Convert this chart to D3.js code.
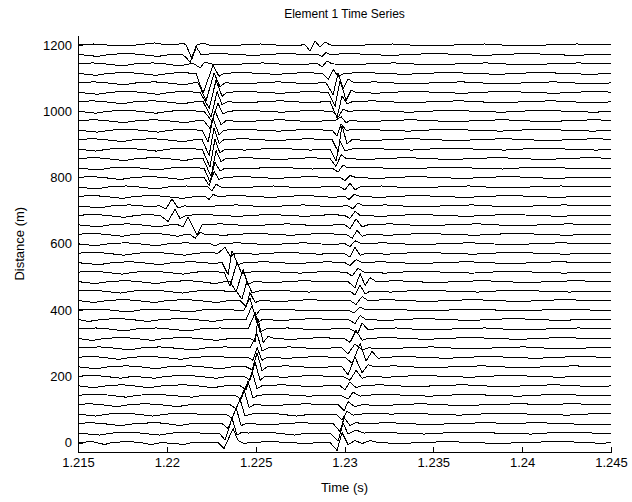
<!DOCTYPE html>
<html><head><meta charset="utf-8">
<script src="https://cdn.jsdelivr.net/npm/d3@7"></script>
<style>
body{margin:0;background:#fff}
svg{display:block}
text{font-family:Arial,"Liberation Sans",sans-serif;fill:#000}
</style>
</head><body>
<svg id="chart" width="632" height="502"></svg>
<script>
// ---- data ----
const chartTitle = "Element 1 Time Series";
const xLabel = "Time (s)";
const yLabel = "Distance (m)";
const xTicks = [1.215, 1.22, 1.225, 1.23, 1.235, 1.24, 1.245];
const xTickLabels = ["1.215", "1.22", "1.225", "1.23", "1.235", "1.24", "1.245"];
const yTicks = [0, 200, 400, 600, 800, 1000, 1200];
const xDomain = [1.215, 1.245];
const yDomain = [-28.57, 1228.57];
// receiver distances (m), one trace each
const distances = [0, 28.57, 57.14, 85.71, 114.29, 142.86, 171.43, 200, 228.57, 257.14, 285.71,
  314.29, 342.86, 371.43, 400, 428.57, 457.14, 485.71, 514.29, 542.86, 571.43, 600, 628.57,
  657.14, 685.71, 714.29, 742.86, 771.43, 800, 828.57, 857.14, 885.71, 914.29, 942.86, 971.43,
  1000, 1028.57, 1057.14, 1085.71, 1114.29, 1142.86, 1171.43, 1200];
const traceStart = 1.215;   // s, times below are ms after this
const gain = 3;             // m of offset per amplitude unit
// each trace: "ms:amplitude" pairs (amplitude positive = up)
const traces = [
"0:0 0.8:1 1.5:-2 1.9:0 2.8:1 3.5:0 4.1:-2 4.7:0 6.0:-2 6.4:0 7.88:0 8.22:-6 8.73:14 9.01:2 9.35:-1 9.68:0 10.8:1 11.9:0 12.8:-1 13.6:0 14.19:0 14.58:-8 14.86:10 15.20:-2 15.59:2 15.99:-1 16.44:2 16.89:0 18.1:-1 19.3:0 20.9:1 22.1:0 23.8:-1 24.9:0 27.1:1 28.8:0 29.4:-1 30:0",
"0:0 1.2:-2 1.9:0 3.0:1 3.5:0 4.6:-2 5.3:0 6.2:1 6.9:0 7.94:0 8.28:-7 8.67:15 8.95:-2 9.23:1 9.57:0 10.5:1 11.2:0 12.2:-2 12.9:0 14.19:0 14.64:-8 14.92:10 15.20:-1 15.65:3 16.10:0 17.3:1 18.0:0 19.5:-1 20.4:0 22.6:1 23.5:0 25.5:-1 26.3:0 28.3:1 29.0:0 30:0",
"0:0 0.7:1 1.4:0 2.4:-2 3.2:0 4.4:1 5.0:0 5.7:-2 6.4:0 8.11:0 8.45:-5 8.90:16 9.18:-2 9.46:0 10.9:-1 11.6:0 12.6:1 13.4:0 14.36:0 14.75:-8 14.98:6 15.31:-2 15.65:1 15.99:0 17.6:1 18.4:0 20.0:-1 21.0:0 23.2:1 24.0:0 26.0:1 27.0:0 29.2:-1 30:-1",
"0:0 1.0:-2 1.6:0 2.6:1 3.3:0 4.2:-2 4.9:0 6.1:1 6.8:0 8.33:0 8.67:-4 9.12:15 9.40:-2 9.68:0 10.6:1 11.4:0 12.3:-2 13.1:0 14.52:0 14.86:-6 15.14:3 15.48:-1 15.88:0 16.9:1 17.6:0 19.0:1 19.8:0 21.5:-1 22.4:0 24.5:1 25.4:0 27.6:-1 28.5:0 30:1",
"0:0 0.6:1 1.3:0 2.2:-2 2.9:0 3.8:1 4.6:0 5.6:-2 6.3:0 8.56:0 8.90:-4 9.35:15 9.63:-3 9.91:0 11.0:-1 11.8:0 12.9:1 13.6:0 14.64:0 14.98:-6 15.20:3 15.59:-2 15.99:0 17.2:-1 18.0:0 19.4:1 20.2:0 22.0:-1 22.9:0 25.0:1 25.9:0 28.0:1 29.0:0 30:0",
"0:0 1.1:1 1.8:0 2.7:-2 3.4:0 4.3:1 5.1:0 6.4:-2 7.1:0 8.84:0 9.18:-4 9.57:14 9.85:-3 10.13:0 11.3:1 12.0:0 13.0:-1 13.8:0 14.75:0 15.20:-4 15.48:3 15.88:-1 16.21:0 17.5:1 18.3:0 19.8:-1 20.7:0 22.3:1 23.1:0 24.8:-1 25.7:0 27.4:1 28.2:0 30:0",
"0:0 0.9:-2 1.6:0 2.5:1 3.1:0 4.0:-2 4.8:0 5.9:1 6.7:0 7.6:-2 8.3:0 9.12:0 9.46:-4 9.80:14 10.08:-3 10.36:0 11.5:1 12.3:0 13.3:-1 14.0:0 14.75:0 15.03:-4 15.31:4 15.65:-2 15.99:0 17.0:1 17.8:0 19.2:-1 20.0:0 21.7:1 22.6:0 24.2:-1 25.1:0 26.9:1 27.8:0 29.5:-1 30:0",
"0:0 0.8:1 1.5:0 2.4:-2 3.1:0 4.3:-2 5.0:0 6.0:1 6.8:0 7.8:-2 8.5:0 9.35:0 9.68:-4 9.97:14 10.25:-4 10.53:0 11.6:-1 12.4:0 13.2:1 14.0:0 14.92:0 15.31:-4 15.65:6 15.99:-2 16.33:0 17.4:-1 18.2:0 19.6:1 20.4:0 22.1:-1 23.0:0 24.6:1 25.5:0 27.2:-1 28.0:0 30:0",
"0:0 1.0:-2 1.7:0 2.7:1 3.5:0 4.4:-2 5.1:0 6.3:1 7.0:0 8.0:-2 8.7:0 9.46:0 9.80:-3 10.08:14 10.36:-4 10.64:0 11.7:1 12.5:0 13.5:-1 14.2:0 14.86:0 15.20:-8 15.59:10 15.99:-6 16.33:2 16.66:0 17.8:1 18.6:0 20.1:-1 21.0:0 22.8:1 23.7:0 25.3:-1 26.2:0 28.0:1 28.9:0 30:0",
"0:0 0.7:1 1.4:0 2.3:-2 3.0:0 4.0:1 4.8:0 5.8:-2 6.5:0 7.7:1 8.5:0 9.57:0 9.85:-3 10.08:10 10.36:-3 10.64:0 11.8:-1 12.6:0 13.6:1 14.3:0 15.03:0 15.43:-6 15.88:14 16.21:-4 16.55:6 16.89:-1 17.23:0 18.5:1 19.3:0 20.8:-1 21.7:0 23.4:1 24.2:0 25.9:-1 26.8:0 28.6:1 29.4:0 30:0",
"0:0 1.2:1 1.9:0 2.9:-2 3.6:0 4.6:1 5.3:0 6.5:-2 7.2:0 8.3:1 9.0:0 9.68:0 10.08:14 10.36:-3 10.70:0 11.9:1 12.7:0 13.7:-1 14.3:0 14.86:0 15.20:-6 15.59:4 15.99:-2 16.33:0 17.6:-1 18.4:0 19.9:1 20.8:0 22.5:-1 23.4:0 25.1:1 26.0:0 27.8:-1 28.7:0 30:0",
"0:0 0.8:-2 1.5:0 2.5:1 3.2:0 4.2:-2 4.9:0 6.0:1 6.7:0 7.8:-2 8.6:0 9.68:0 9.97:-3 10.13:20 10.42:-4 10.70:2 11.03:0 12.0:-1 12.8:0 13.8:1 14.4:0 14.98:0 15.31:-4 15.65:8 15.99:-2 16.33:0 17.5:1 18.3:0 19.7:-1 20.6:0 22.3:1 23.2:0 24.9:-1 25.8:0 27.5:1 28.4:0 30:0",
"0:0 1.0:1 1.7:0 2.6:-2 3.3:0 4.4:1 5.1:0 6.2:-2 6.9:0 8.0:1 8.8:0 9.57:0 9.97:16 10.25:-3 10.58:0 11.8:1 12.6:0 13.5:-1 14.3:0 15.31:0 15.76:-4 15.99:6 16.33:-1 16.66:0 17.9:1 18.7:0 20.2:-1 21.1:0 22.9:1 23.8:0 25.5:-1 26.4:0 28.2:1 29.1:0 30:0",
"0:0 0.6:-2 1.3:0 2.3:1 3.0:0 3.9:-2 4.7:0 5.8:1 6.5:0 7.6:-2 8.4:0 9.46:0 9.80:14 10.08:-4 10.36:0 11.5:-1 12.3:0 13.3:1 14.1:0 15.20:0 15.59:-4 15.88:4 16.21:0 17.4:-1 18.2:0 19.6:1 20.5:0 22.2:-1 23.1:0 24.7:1 25.6:0 27.3:-1 28.2:0 30:0",
"0:0 1.1:1 1.8:0 2.8:-2 3.5:0 4.5:1 5.2:0 6.3:-2 7.0:0 8.1:1 8.8:0 9.35:0 9.68:12 9.97:-6 10.25:0 11.4:1 12.2:0 13.2:-1 14.0:0 15.20:0 15.54:-3 15.88:3 16.21:0 17.7:1 18.5:0 20.0:-1 20.9:0 22.6:1 23.5:0 25.2:-1 26.1:0 27.9:1 28.8:0 30:0",
"0:0 0.9:-2 1.6:0 2.6:1 3.3:0 4.3:-2 5.0:0 6.1:1 6.8:0 7.8:-2 8.5:0 9.12:0 9.46:-6 9.68:8 9.97:-2 10.25:0 11.4:-1 12.2:0 13.1:1 13.9:0 15.31:0 15.65:-4 15.99:4 16.33:0 17.5:1 18.3:0 19.8:-1 20.7:0 22.4:1 23.3:0 25.0:-1 25.9:0 27.6:1 28.5:0 30:0",
"0:0 0.7:1 1.4:0 2.4:-2 3.1:0 4.1:1 4.9:0 5.9:-2 6.6:0 7.6:1 8.3:0 8.90:0 9.23:-8 9.51:10 9.80:-2 10.08:0 11.2:1 12.0:0 13.0:-1 13.8:0 15.31:0 15.59:-4 15.88:6 16.16:-3 16.44:0 17.6:-1 18.4:0 19.9:1 20.8:0 22.5:-1 23.4:0 25.1:1 26.0:0 27.7:-1 28.6:0 30:0",
"0:0 1.0:-2 1.7:0 2.7:1 3.4:0 4.4:-2 5.1:0 6.2:1 6.9:0 7.7:-2 8.3:0 8.56:0 8.90:-10 9.29:12 9.57:-3 9.91:0 11.0:-1 11.8:0 12.8:1 13.6:0 15.20:0 15.59:-6 15.88:8 16.16:-4 16.44:4 16.78:0 18.0:1 18.8:0 20.3:-1 21.2:0 22.9:1 23.8:0 25.5:-1 26.4:0 28.2:1 29.1:0 30:0",
"0:0 0.8:1 1.5:0 2.5:-2 3.2:0 4.2:1 4.9:0 5.9:-2 6.6:0 7.5:1 8.0:0 8.22:0 8.56:-14 8.95:10 9.23:-2 9.57:0 10.7:1 11.5:0 12.5:-1 13.3:0 14.3:1 14.8:0 15.09:0 15.43:-4 15.76:4 16.10:0 17.3:-1 18.1:0 19.6:1 20.5:0 22.2:-1 23.1:0 24.8:1 25.7:0 27.4:-1 28.3:0 30:0",
"0:0 1.2:-2 1.9:0 2.9:1 3.6:0 4.6:-2 5.3:0 6.4:1 7.1:0 7.7:-1 8.0:0 8.11:0 8.45:-12 8.67:12 9.01:-2 9.35:0 10.5:1 11.3:0 12.3:-1 13.1:0 14.1:1 14.7:0 15.03:0 15.31:-3 15.65:3 15.99:0 17.1:1 17.9:0 19.4:-1 20.3:0 22.0:1 22.9:0 24.6:-1 25.5:0 27.2:1 28.1:0 30:0",
"0:0 0.9:1 1.6:0 2.6:-2 3.3:0 4.3:1 5.0:0 6.0:-2 6.7:0 7.4:1 7.8:0 7.88:0 8.28:6 8.56:-3 8.90:0 10.0:-1 10.8:0 11.8:1 12.6:0 13.6:-1 14.4:0 14.98:0 15.31:-4 15.59:6 15.88:-2 16.21:0 17.4:-1 18.2:0 19.7:1 20.6:0 22.3:-1 23.2:0 24.9:1 25.8:0 27.5:-1 28.4:0 30:0",
"0:0 1.0:-2 1.7:0 2.7:1 3.4:0 4.4:-2 5.1:0 6.1:1 6.8:0 7.43:0 7.71:-2 7.99:0 9.0:1 9.8:0 10.9:-1 11.7:0 12.7:1 13.5:0 14.3:-1 14.8:0 15.03:0 15.31:-3 15.59:3 15.99:0 17.2:1 18.0:0 19.5:-1 20.4:0 22.1:1 23.0:0 24.7:-1 25.6:0 27.3:1 28.2:0 30:0",
"0:0 0.8:1 1.5:0 2.5:-2 3.2:0 4.2:1 4.9:0 5.6:-2 6.1:0 6.31:0 6.59:-4 6.87:2 7.15:0 8.2:-1 9.0:0 10.1:1 10.9:0 12.0:-1 12.8:0 13.9:1 14.6:0 15.09:0 15.43:-4 15.71:4 15.99:-2 16.33:0 17.5:-1 18.3:0 19.8:1 20.7:0 22.4:-1 23.3:0 25.0:1 25.9:0 27.6:-1 28.5:0 30:0",
"0:0 1.1:-2 1.8:0 2.8:1 3.5:0 4.5:-2 5.2:0 5.63:0 5.91:-2 6.19:8 6.70:-10 6.98:0 8.0:1 8.8:0 9.9:-1 10.7:0 11.8:1 12.6:0 13.7:-1 14.5:0 15.03:0 15.31:-4 15.65:6 15.99:-2 16.33:0 17.6:1 18.4:0 19.9:-1 20.8:0 22.5:1 23.4:0 25.1:-1 26.0:0 27.7:1 28.6:0 30:0",
"0:0 0.9:1 1.6:0 2.6:-2 3.3:0 4.0:1 4.4:0 4.62:0 5.07:-6 5.46:6 5.74:-3 6.08:0 7.1:1 7.9:0 9.0:-1 9.8:0 10.9:1 11.7:0 12.8:-1 13.6:0 14.4:1 14.8:0 14.98:0 15.31:-3 15.59:4 15.88:0 17.1:-1 17.9:0 19.4:1 20.3:0 22.0:-1 22.9:0 24.6:1 25.5:0 27.2:-1 28.1:0 30:0",
"0:0 1.2:-2 1.9:0 2.9:1 3.6:0 4.2:-1 4.5:0 4.62:0 4.95:-3 5.29:7 5.63:-2 5.97:0 7.0:-1 7.8:0 8.9:1 9.7:0 10.8:-1 11.6:0 12.7:1 13.5:0 14.5:-1 15.0:0 15.20:0 15.48:-3 15.76:3 16.10:0 17.3:1 18.1:0 19.6:-1 20.5:0 22.2:1 23.1:0 24.8:-1 25.7:0 27.4:1 28.3:0 30:0",
"0:0 0.8:1 1.5:0 2.5:-2 3.2:0 4.2:1 4.9:0 5.9:-2 6.6:0 7.15:0 7.38:-3 7.60:2 7.88:0 9.0:1 9.8:0 10.9:-1 11.7:0 12.8:1 13.6:0 14.4:-1 14.8:0 15.03:0 15.26:-3 15.54:2 15.88:0 17.0:-1 17.8:0 19.3:1 20.2:0 21.9:-1 22.8:0 24.5:1 25.4:0 27.1:-1 28.0:0 30:0",
"0:0 1.0:-2 1.7:0 2.7:1 3.4:0 4.4:-2 5.1:0 6.1:1 6.8:0 7.32:0 7.54:-4 7.77:3 7.99:0 9.1:-1 9.9:0 11.0:1 11.8:0 12.9:-1 13.7:0 14.75:0 15.03:-3 15.31:4 15.59:-3 15.88:0 17.1:1 17.9:0 19.4:-1 20.3:0 22.0:1 22.9:0 24.6:-1 25.5:0 27.2:1 28.1:0 30:0",
"0:0 0.7:1 1.4:0 2.4:-2 3.1:0 4.1:1 4.8:0 5.8:-2 6.5:0 7.09:0 7.38:-8 7.66:6 7.94:-2 8.22:0 9.3:1 10.1:0 11.2:-1 12.0:0 13.1:1 13.9:0 14.75:0 15.03:-3 15.31:2 15.65:0 16.9:-1 17.7:0 19.2:1 20.1:0 21.8:-1 22.7:0 24.4:1 25.3:0 27.0:-1 27.9:0 30:0",
"0:0 1.1:-2 1.8:0 2.8:1 3.5:0 4.5:-2 5.2:0 6.2:1 6.9:0 7.09:0 7.43:-14 7.71:6 7.99:-3 8.28:0 9.4:-1 10.2:0 11.3:1 12.1:0 13.2:-1 13.9:0 14.30:0 14.64:-4 14.92:3 15.20:0 16.4:1 17.2:0 18.7:-1 19.6:0 21.3:1 22.2:0 23.9:-1 24.8:0 26.5:1 27.4:0 29.1:-1 30:0",
"0:0 0.9:1 1.6:0 2.6:-2 3.3:0 4.3:1 5.0:0 6.0:-2 6.6:0 7.04:0 7.49:-18 7.77:8 8.05:-3 8.33:0 9.5:1 10.3:0 11.4:-1 12.2:0 13.2:1 13.8:0 14.19:0 14.52:-8 14.81:4 15.09:0 16.3:-1 17.1:0 18.6:1 19.5:0 21.2:-1 22.1:0 23.8:1 24.7:0 26.4:-1 27.3:0 29.0:1 30:0",
"0:0 1.0:-2 1.7:0 2.7:1 3.4:0 4.4:-2 5.1:0 6.1:1 6.7:0 6.98:0 7.43:-18 7.71:10 7.99:-4 8.28:0 9.4:-1 10.2:0 11.3:1 12.1:0 13.1:-1 13.8:0 14.19:0 14.52:-12 14.75:8 15.03:-2 15.31:0 16.5:1 17.3:0 18.8:-1 19.7:0 21.4:1 22.3:0 24.0:-1 24.9:0 26.6:1 27.5:0 29.2:-1 30:0",
"0:0 0.8:1 1.5:0 2.5:-2 3.2:0 4.2:1 4.9:0 5.9:-2 6.6:0 6.98:0 7.38:-16 7.66:12 7.94:-4 8.22:0 9.3:1 10.1:0 11.2:-1 12.0:0 13.0:1 13.8:0 14.30:0 14.64:-12 14.86:14 15.14:-4 15.43:0 16.6:-1 17.4:0 18.9:1 19.8:0 21.5:-1 22.4:0 24.1:1 25.0:0 26.7:-1 27.6:0 29.3:1 30:0",
"0:0 1.1:-2 1.8:0 2.8:1 3.5:0 4.5:-2 5.2:0 6.2:1 6.8:0 6.98:0 7.32:-12 7.60:12 7.94:-5 8.22:0 9.4:1 10.2:0 11.3:-1 12.1:0 13.1:1 13.9:0 14.30:0 14.58:-6 14.81:6 15.09:0 16.3:1 17.1:0 18.6:-1 19.5:0 21.2:1 22.1:0 23.8:-1 24.7:0 26.4:1 27.3:0 29.0:-1 30:0",
"0:0 0.9:1 1.6:0 2.6:-2 3.3:0 4.3:1 5.0:0 6.0:-2 6.7:0 7.09:0 7.43:-8 7.71:10 8.05:-4 8.33:0 9.5:-1 10.3:0 11.4:1 12.2:0 13.2:-1 14.0:0 14.47:0 14.81:4 15.09:-2 15.31:0 16.5:-1 17.3:0 18.8:1 19.7:0 21.4:-1 22.3:0 24.0:1 24.9:0 26.6:-1 27.5:0 29.2:1 30:0",
"0:0 1.0:-2 1.7:0 2.7:1 3.4:0 4.4:-2 5.1:0 6.1:1 6.8:0 7.09:0 7.54:-10 7.88:8 8.16:-3 8.45:0 9.6:1 10.4:0 11.5:-1 12.3:0 13.3:1 14.0:0 14.30:0 14.64:-6 14.92:2 15.20:0 16.4:1 17.2:0 18.7:-1 19.6:0 21.3:1 22.2:0 23.9:-1 24.8:0 26.5:1 27.4:0 29.1:-1 30:0",
"0:0 0.8:1 1.5:0 2.5:-2 3.2:0 4.2:1 4.9:0 5.9:-2 6.6:0 7.04:0 7.49:-15 7.83:10 8.11:-3 8.39:0 9.5:-1 10.3:0 11.4:1 12.2:0 13.2:-1 13.8:0 14.19:0 14.58:-16 14.86:6 15.14:-2 15.43:0 16.6:1 17.4:0 18.9:-1 19.8:0 21.5:1 22.4:0 24.1:-1 25.0:0 26.7:1 27.6:0 29.3:-1 30:0",
"0:0 1.1:-2 1.8:0 2.8:1 3.5:0 4.5:-2 5.2:0 6.1:1 6.6:0 6.87:0 7.38:-16 7.77:12 8.11:-4 8.39:0 9.5:1 10.3:0 11.4:-1 12.2:0 13.2:1 13.8:0 14.08:0 14.47:-14 14.75:12 15.09:-8 15.37:2 15.65:0 16.8:-1 17.6:0 19.1:1 20.0:0 21.7:-1 22.6:0 24.3:1 25.2:0 26.9:-1 27.8:0 29.5:1 30:0",
"0:0 0.9:1 1.6:0 2.6:-2 3.3:0 4.3:1 5.0:0 6.0:-2 6.5:0 6.76:0 7.21:-18 7.66:10 7.99:-4 8.28:0 9.4:-1 10.2:0 11.3:1 12.1:0 13.0:-1 13.6:0 13.96:0 14.36:-12 14.64:10 14.92:-6 15.20:4 15.54:0 16.7:1 17.5:0 19.0:-1 19.9:0 21.6:1 22.5:0 24.2:-1 25.1:0 26.8:1 27.7:0 29.4:-1 30:0",
"0:0 1.0:-2 1.7:0 2.7:1 3.4:0 4.4:-2 5.1:0 5.9:1 6.4:0 6.64:0 7.04:-20 7.60:8 7.94:-3 8.22:0 9.3:1 10.1:0 11.2:-1 12.0:0 12.9:1 13.5:0 13.74:0 14.08:-6 14.36:4 14.64:-3 14.98:0 16.2:1 17.0:0 18.5:-1 19.4:0 21.1:1 22.0:0 23.7:-1 24.6:0 26.3:1 27.2:0 28.9:-1 30:0",
"0:0 0.8:1 1.5:0 2.5:-2 3.2:0 4.2:1 4.9:0 5.7:-2 6.3:0 6.53:0 6.87:-4 7.15:2 7.43:0 8.5:-1 9.3:0 10.4:1 11.2:0 12.3:-1 13.1:0 13.51:0 13.74:-3 14.02:3 14.30:0 15.5:-1 16.3:0 17.8:1 18.7:0 20.4:-1 21.3:0 23.0:1 23.9:0 25.6:-1 26.5:0 28.2:1 29.1:0 30:0",
"0:0 1.1:-2 1.8:0 2.8:1 3.5:0 4.5:-2 5.2:0 5.86:0 6.08:-3 6.31:-8 6.64:8 6.92:0 8.0:1 8.8:0 9.9:-1 10.7:0 11.8:1 12.6:0 13.51:0 13.74:-2 13.96:2 14.19:0 15.4:1 16.2:0 17.7:-1 18.6:0 20.3:1 21.2:0 22.9:-1 23.8:0 25.5:1 26.4:0 28.1:-1 29.0:0 30:0",
"0:0 0.9:1 1.6:0 2.6:-1 3.3:0 4.3:2 5.0:0 5.52:0 5.91:2 6.08:0 6.42:-14 6.70:0 7.04:2 7.32:0 8.4:-1 9.2:0 10.3:1 11.1:0 12.2:-1 12.6:0 12.78:0 13.06:-6 13.34:4 13.62:-2 13.91:3 14.19:0 15.4:-1 16.2:0 17.7:1 18.6:0 20.3:-1 21.2:0 22.9:1 23.8:0 25.5:-1 26.4:0 28.1:1 29.0:0 30:0"
];

// ---- drawing ----
const svg = d3.select("#chart");
const x = d3.scaleLinear().domain(xDomain).range([78, 611]);
const y = d3.scaleLinear().domain(yDomain).range([452, 35.5]);

const parsed = traces.map((s, i) => s.trim().split(/\s+/).map(p => {
  const [ms, a] = p.split(":").map(Number);
  return {t: traceStart + ms / 1000, d: distances[i] + a * gain};
}));

const line = d3.line().x(p => x(p.t)).y(p => y(p.d));
svg.append("g").selectAll("path").data(parsed).join("path")
  .attr("d", line).attr("fill", "none").attr("stroke", "#000")
  .attr("stroke-width", 1).attr("stroke-linejoin", "miter")
  .attr("shape-rendering", "crispEdges");

const xAxis = d3.axisBottom(x).tickValues(xTicks)
  .tickFormat((d, i) => xTickLabels[i]).tickSizeInner(-5).tickSizeOuter(0).tickPadding(6);
const yAxis = d3.axisLeft(y).tickValues(yTicks)
  .tickFormat(d3.format("d")).tickSizeInner(-5).tickSizeOuter(0).tickPadding(6);

const gx = svg.append("g").attr("transform", "translate(0,452)").call(xAxis);
const gy = svg.append("g").attr("transform", "translate(78,0)").call(yAxis);
[gx, gy].forEach(g => {
  g.selectAll("path,line").attr("stroke", "#000").attr("shape-rendering", "crispEdges");
  g.selectAll("text").attr("font-family", "Arial, 'Liberation Sans', sans-serif")
    .attr("font-size", 13).attr("fill", "#000");
});

svg.append("text").attr("x", 344.5).attr("y", 18).attr("text-anchor", "middle")
  .attr("font-size", 12).text(chartTitle);
svg.append("text").attr("x", 344.5).attr("y", 492).attr("text-anchor", "middle")
  .attr("font-size", 13).text(xLabel);
svg.append("text").attr("transform", "translate(24,243.7) rotate(-90)")
  .attr("text-anchor", "middle").attr("font-size", 13).text(yLabel);
</script>
</body></html>
